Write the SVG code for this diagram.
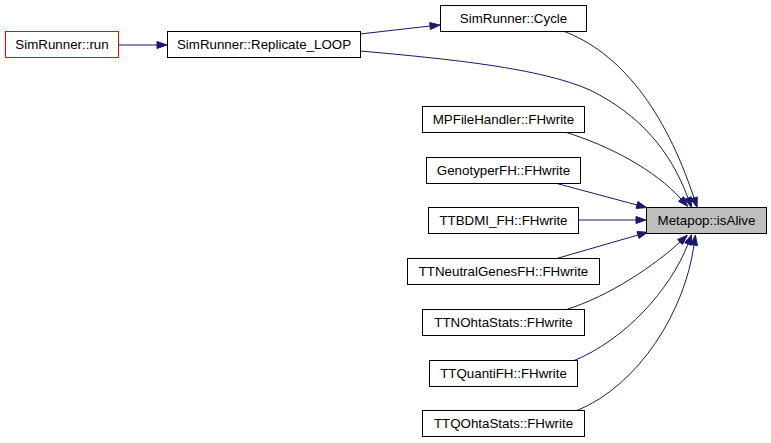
<svg xmlns="http://www.w3.org/2000/svg" width="771" height="443" viewBox="0 0 771 443">
<style>
.n rect{fill:#ffffff;stroke:#000000;stroke-width:1}
.n text{font-family:"Liberation Sans",Arial,sans-serif;font-size:13.33px;fill:#000000;text-anchor:middle}
#metapop rect{fill:#bfbfbf}
#run rect{stroke:#ff0000}
.e path{fill:none;stroke:#191970;stroke-width:1}
.e polygon{fill:#191970;stroke:#191970;stroke-width:1}
</style>
<rect x="0" y="0" width="771" height="443" fill="#ffffff"/>
<g id="edges" class="e">
<path d="M118,45 L157,45"/>
<polygon points="157,41.5 167,45 157,48.5"/>
<path d="M360,34 L430,26"/>
<polygon points="430.4,29.6 440,25 429.7,22.6"/>
<path d="M360,51 C450,59 540,68 590,90 C640,115 670,150 688,198"/>
<polygon points="684.7,199.2 691.5,207.4 691.3,196.8"/>
<path d="M563,31 C620,52 665,110 694,198"/>
<polygon points="690.7,199.1 697.1,207.5 697.3,196.9"/>
<path d="M565,132 C610,146 655,170 681,199"/>
<polygon points="678.4,201.3 687.7,206.4 683.6,196.7"/>
<path d="M555,183 L637,205"/>
<polygon points="636.1,208.4 646.7,207.6 637.9,201.6"/>
<path d="M578,220 L636,220"/>
<polygon points="636,216.5 646,220 636,223.5"/>
<path d="M555,259 L638,235"/>
<polygon points="639,238.4 647.6,232.2 637,231.6"/>
<path d="M565,310 C610,296 655,265 680,242"/>
<polygon points="682.4,244.6 687.4,235.2 677.6,239.4"/>
<path d="M573,361 C625,340 670,290 688,244"/>
<polygon points="691.3,245.3 691.6,234.7 684.7,242.7"/>
<path d="M576,411 C640,385 685,310 694,245"/>
<polygon points="697.5,245.5 695.4,235.1 690.5,244.5"/>
</g>
<g id="run" class="n"><rect x="5.5" y="31.5" width="113" height="26"/><text x="62" y="49">SimRunner::run</text></g>
<g id="replicate" class="n"><rect x="167.5" y="31.5" width="193" height="26"/><text x="264" y="49">SimRunner::Replicate_LOOP</text></g>
<g id="cycle" class="n"><rect x="440.5" y="5.5" width="146" height="26"/><text x="513.5" y="23">SimRunner::Cycle</text></g>
<g id="metapop" class="n"><rect x="646.5" y="207.5" width="120" height="26"/><text x="706.5" y="225">Metapop::isAlive</text></g>
<g id="mpfile" class="n"><rect x="422.5" y="106.5" width="162" height="26"/><text x="503.5" y="124">MPFileHandler::FHwrite</text></g>
<g id="genotyper" class="n"><rect x="426.5" y="157.5" width="154" height="26"/><text x="503.5" y="175">GenotyperFH::FHwrite</text></g>
<g id="ttbdmi" class="n"><rect x="428.5" y="207.5" width="150" height="26"/><text x="503.5" y="225">TTBDMI_FH::FHwrite</text></g>
<g id="ttneutral" class="n"><rect x="407.5" y="258.5" width="192" height="26"/><text x="503.5" y="276">TTNeutralGenesFH::FHwrite</text></g>
<g id="ttnohta" class="n"><rect x="422.5" y="309.5" width="162" height="26"/><text x="503.5" y="327">TTNOhtaStats::FHwrite</text></g>
<g id="ttquanti" class="n"><rect x="429.5" y="360.5" width="148" height="26"/><text x="503.5" y="378">TTQuantiFH::FHwrite</text></g>
<g id="ttqohta" class="n"><rect x="422.5" y="410.5" width="162" height="26"/><text x="503.5" y="428">TTQOhtaStats::FHwrite</text></g>
</svg>
